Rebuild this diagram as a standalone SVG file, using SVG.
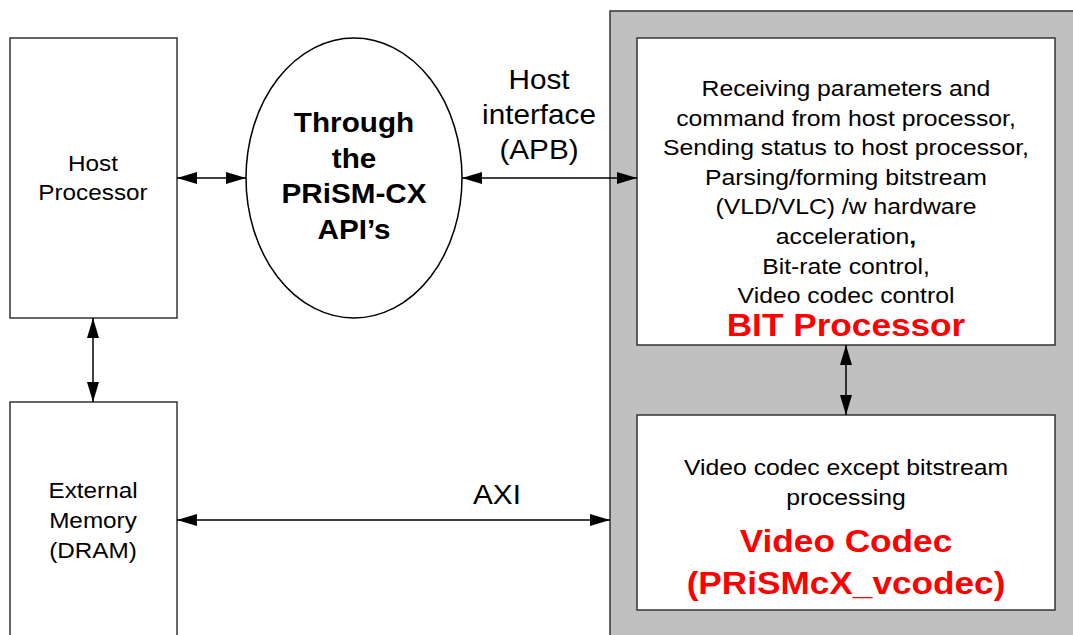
<svg xmlns="http://www.w3.org/2000/svg" width="1073" height="635" viewBox="0 0 1073 635">
<defs>
<marker id="ah" viewBox="0 0 20 12" refX="20" refY="6" markerWidth="20" markerHeight="12" markerUnits="userSpaceOnUse" orient="auto-start-reverse">
<path d="M0,0 L20,6 L0,12 Z" fill="#000"/>
</marker>
<style>
.box{fill:#fff;stroke:#333;stroke-width:1.5}
.t{font-family:"Liberation Sans",Arial,sans-serif;font-size:22.5px;fill:#000;text-anchor:middle}
.lbl{font-family:"Liberation Sans",Arial,sans-serif;font-size:27px;fill:#000;text-anchor:middle}
.b{font-family:"Liberation Sans",Arial,sans-serif;font-size:28px;font-weight:bold;fill:#000;text-anchor:middle}
.r{font-family:"Liberation Sans",Arial,sans-serif;font-size:32px;font-weight:bold;fill:#ff0000;text-anchor:middle}
.c{stroke:#000;stroke-width:1.5;fill:none;marker-start:url(#ah);marker-end:url(#ah)}
</style>
</defs>
<rect width="1073" height="635" fill="#fff"/>
<g id="chip">
<rect x="610" y="11" width="470" height="630" fill="#c0c0c0" stroke="#333" stroke-width="1.5"/>
</g>
<g id="host">
<rect class="box" x="10" y="38" width="167" height="280"/>
<g transform="translate(93,0) scale(1.08,1)">
<text class="t" x="0" y="171">Host</text>
<text class="t" x="0" y="200">Processor</text>
</g>
</g>
<g id="memory">
<rect class="box" x="10" y="402" width="167" height="250"/>
<g transform="translate(93,0) scale(1.08,1)">
<text class="t" x="0" y="498">External</text>
<text class="t" x="0" y="528">Memory</text>
<text class="t" x="0" y="558">(DRAM)</text>
</g>
</g>
<g id="api">
<ellipse cx="354" cy="178" rx="108" ry="140" fill="#fff" stroke="#000" stroke-width="1.5"/>
<g transform="translate(354,0) scale(1.06,1)">
<text class="b" x="0" y="132">Through</text>
<text class="b" x="0" y="168">the</text>
<text class="b" x="0" y="203">PRiSM-CX</text>
<text class="b" x="0" y="239">API’s</text>
</g>
</g>
<g id="bit">
<rect class="box" x="637" y="38" width="418" height="307"/>
<g transform="translate(846,0) scale(1.1,1)">
<text class="t" x="0" y="96">Receiving parameters and</text>
<text class="t" x="0" y="126">command from host processor,</text>
<text class="t" x="0" y="155">Sending status to host processor,</text>
<text class="t" x="0" y="185">Parsing/forming bitstream</text>
<text class="t" x="0" y="214">(VLD/VLC) /w hardware</text>
<text class="t" x="0" y="244">acceleration<tspan font-weight="bold">,</tspan></text>
<text class="t" x="0" y="274">Bit-rate control,</text>
<text class="t" x="0" y="303">Video codec control</text>
<text class="r" x="0" y="336">BIT Processor</text>
</g>
</g>
<g id="vcodec">
<rect class="box" x="637" y="415" width="418" height="195"/>
<g transform="translate(846,0) scale(1.1,1)">
<text class="t" x="0" y="475">Video codec except bitstream</text>
<text class="t" x="0" y="505">processing</text>
<text class="r" x="0" y="552">Video Codec</text>
<text class="r" x="0" y="594">(PRiSMcX_vcodec)</text>
</g>
</g>
<g id="connectors">
<line class="c" x1="177" y1="178" x2="246" y2="178"/>
<line class="c" x1="462" y1="178" x2="637" y2="178"/>
<line class="c" x1="93" y1="318" x2="93" y2="402"/>
<line class="c" x1="846" y1="345" x2="846" y2="415"/>
<line class="c" x1="177" y1="520" x2="610" y2="520"/>
<g transform="translate(539,0) scale(1.1,1)">
<text class="lbl" x="0" y="89">Host</text>
<text class="lbl" x="0" y="124">interface</text>
<text class="lbl" x="0" y="159">(APB)</text>
</g>
<g transform="translate(497,0) scale(1.1,1)">
<text class="lbl" x="0" y="504">AXI</text>
</g>
</g>
</svg>
